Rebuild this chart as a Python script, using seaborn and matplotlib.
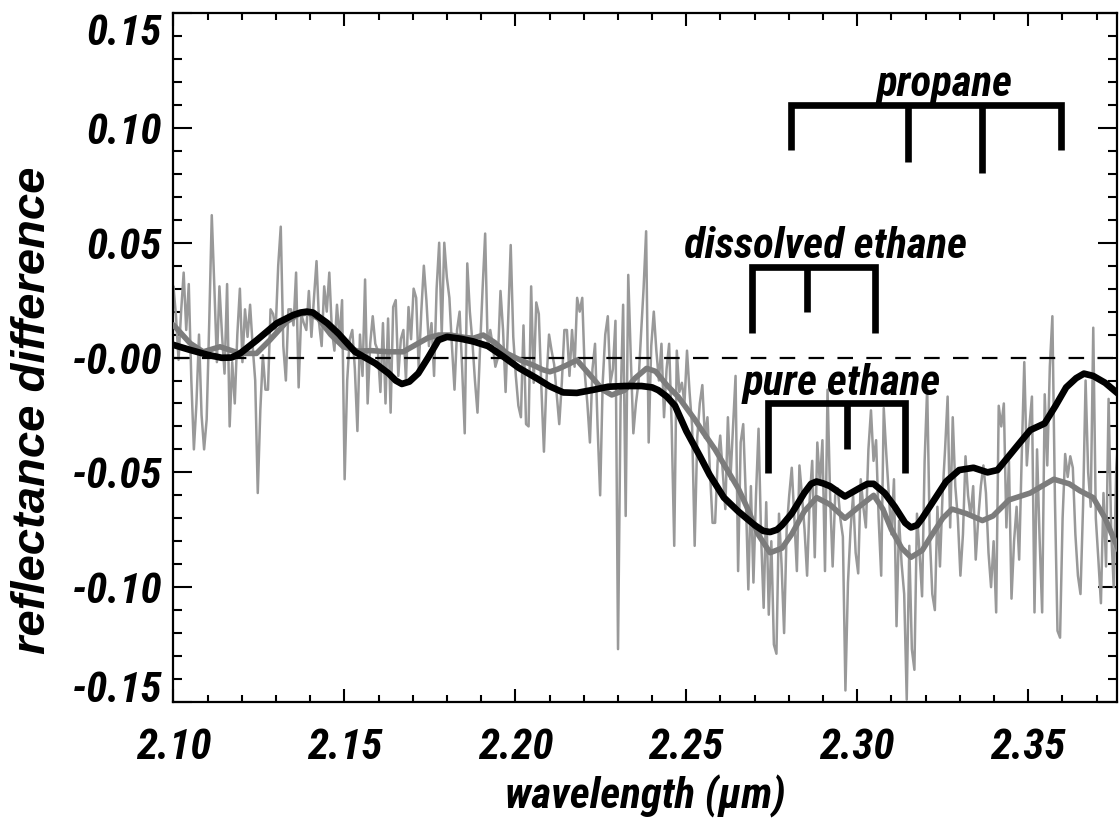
import numpy as np
import pandas as pd
import matplotlib
matplotlib.use("Agg")
import matplotlib.pyplot as plt
from matplotlib import font_manager as fm
from matplotlib.ticker import FixedLocator, FixedFormatter, MultipleLocator
import seaborn as sns

# ---- data, values in units of 0.001 ----
# noisy difference spectrum, evenly sampled from 2.100 to 2.3765 um
noisy_start, noisy_end = 2.100, 2.3765
noisy_vals = [
    31, 18, -1, 20, 37, 12, 32, -10, -40, -20, 10, -25, -40, -27, 15, 62, 31, -2, 31, 10,
    -7, 32, -30, -2, -20, 10, 30, -2, 21, 9, 23, 5, -10, -59, -23, 1, -14, -14, 21, 19,
    12, 40, 57, 5, -10, 21, 21, 14, 37, -13, 19, 15, 12,
    29, 9, 26, 42, 15, 5, 31, 20, 37, 12, 3, 23, 8, 25, -53, -10, 8, 12, -5, -32,
    10, -8, 34, -20, 6, 18, 6, 3, -15, 15, -20, 17, -24, 22, 25, -8, 8, 12, -10, 22,
    8, 30, 26, -5, 20, 40, 25, 5, 15, -8, 30, 50, 10,
    50, 35, 26, 5, -14, 12, 20, -5, -33, 41, 20, 7, -10, -24, 4, 30, 54, 4, 12, 5,
    -4, 0, 29, 12, -15, 16, 49, 9, -8, -21, -26, 14, -29, -30, 31, -11, 24, 19, -13, -41,
    -10, 10, 3, -3, -16, -29, -11, 12, 12, -8, 12, -4, 26,
    20, 26, -7, -20, -37, -5, 6, -30, -60, -11, 10, 18, -11, -5, 16, -127, -20, 23, -69, 36,
    0, -33, -20, -11, 10, 30, 55, -37, 5, 20, 3, -10, 6, -26, -5, 6, -30, -82, 3, -15,
    -11, -20, 3, -15, -30, -82, -35, -20, -12, -35, -26, -50, -72,
    -72, -45, -34, -50, -66, -26, -53, -30, -8, -93, -37, -29, -60, -101, -56, -98, -60, -31, -78, -109,
    -63, -112, -80, -125, -129, -68, -90, -120, -75, -60, -48, -70, -93, -47, -60, -75, -95, -62, -45, -87,
    -37, -55, -36, -93, -14, -60, -91, -60, -57, -70, -78, -145, -98,
    -75, -60, -85, -94, -53, -65, -74, -40, -23, -45, -36, -70, -95, -22, -42, -60, -77, -53, -117, -71,
    -90, -103, -149, -82, -127, -136, -68, -85, -104, -45, -13, -77, -103, -110, -65, -91, -60, -40, -17, -74,
    -26, -56, -70, -95, -77, -43, -60, -69, -56, -88, -70, -56, -47,
    -59, -85, -100, -80, -111, -21, -30, -20, -74, -45, -105, -80, -65, -88, -43, -2, -47, -30, -17, -111,
    -40, -79, -111, -16, -47, -4, 18, -62, -119, -122, -70, -42, -52, -43, -48, -77, -95, -103, -65, -10,
    -50, -65, 13, -70, -88, -107, -59, -91, -18, -75, -100, -48, -32,
]

# smoothed curve (grey)
grey_wl = [2.1000, 2.1049, 2.1087, 2.1136, 2.1195, 2.1243, 2.1282, 2.1331, 2.1365, 2.1395,
           2.1424, 2.1460, 2.1497, 2.1540, 2.1580, 2.1630, 2.1672, 2.1716, 2.1745, 2.1775,
           2.1810, 2.1850, 2.1877, 2.1906, 2.1940, 2.1975, 2.2020, 2.2052, 2.2080, 2.2101,
           2.2125, 2.2150, 2.2180, 2.2223, 2.2255, 2.2282, 2.2320, 2.2350, 2.2384, 2.2410,
           2.2443, 2.2476, 2.2525, 2.2547, 2.2584, 2.2620, 2.2652, 2.2680, 2.2710, 2.2745,
           2.2780, 2.2808, 2.2845, 2.2881, 2.2920, 2.2964, 2.3005, 2.3048, 2.3075, 2.3100,
           2.3130, 2.3157, 2.3190, 2.3215, 2.3250, 2.3277, 2.3320, 2.3366, 2.3397, 2.3444,
           2.3506, 2.3540, 2.3575, 2.3620, 2.3651, 2.3690, 2.3725, 2.3765]
grey_val = [14.2, 6.2, 2.5, 4.7, 1.8, 1.8, 7.6, 15.6, 18.8, 19.5,
            17.0, 10.0, 4.7, 2.8, 3.0, 2.5, 2.5, 6.2, 8.6, 9.8,
            9.8, 8.8, 8.4, 9.8, 6.5, 1.8, -1.5, -3.3, -5.3, -6.2,
            -5.0, -3.3, -1.1, -8.4, -14.0, -16.3, -14.2, -9.0, -4.7, -6.0,
            -12.0, -17.0, -27.0, -32.0, -40.0, -49.0, -57.0, -66.0, -77.0, -85.0,
            -83.0, -77.0, -67.0, -61.0, -64.0, -70.0, -65.0, -60.0, -66.0, -75.0,
            -83.0, -87.0, -84.0, -78.0, -70.0, -66.0, -68.0, -71.0, -69.0, -62.0,
            -59.0, -56.0, -53.0, -55.0, -58.0, -61.0, -70.0, -84.0]

# smoothed curve (black)
black_wl = [2.1000, 2.1049, 2.1100, 2.1141, 2.1170, 2.1195, 2.1244, 2.1302, 2.1350, 2.1372,
            2.1390, 2.1408, 2.1424, 2.1450, 2.1482, 2.1531, 2.1590, 2.1630, 2.1650, 2.1668,
            2.1690, 2.1716, 2.1745, 2.1775, 2.1800, 2.1840, 2.1877, 2.1920, 2.1965, 2.2010,
            2.2062, 2.2100, 2.2140, 2.2180, 2.2230, 2.2272, 2.2320, 2.2369, 2.2400, 2.2418,
            2.2443, 2.2467, 2.2500, 2.2540, 2.2568, 2.2610, 2.2652, 2.2700, 2.2725, 2.2745,
            2.2765, 2.2780, 2.2808, 2.2845, 2.2865, 2.2881, 2.2900, 2.2920, 2.2964, 2.3005,
            2.3030, 2.3048, 2.3080, 2.3110, 2.3140, 2.3157, 2.3175, 2.3190, 2.3225, 2.3260,
            2.3298, 2.3340, 2.3381, 2.3410, 2.3443, 2.3476, 2.3506, 2.3548, 2.3580, 2.3611,
            2.3640, 2.3663, 2.3690, 2.3725, 2.3765]
black_val = [5.5, 3.3, 1.2, -0.1, 0.0, 1.8, 7.6, 14.9, 18.5, 19.6,
             20.0, 19.6, 17.8, 15.0, 10.5, 2.5, -2.5, -7.0, -10.0, -11.5,
             -10.5, -6.9, 0.0, 7.6, 9.0, 8.2, 7.0, 5.0, 0.4, -4.5,
             -9.0, -12.5, -15.2, -15.4, -14.0, -12.7, -12.4, -12.4, -13.0, -14.2,
             -17.0, -21.0, -32.0, -43.0, -51.0, -61.0, -67.0, -73.0, -75.5, -76.0,
             -75.0, -73.0, -68.0, -59.0, -55.0, -54.0, -54.8, -56.0, -60.5, -57.0,
             -55.0, -55.0, -59.0, -65.0, -72.0, -74.0, -73.0, -70.0, -62.0, -54.0,
             -49.0, -48.0, -50.0, -49.0, -43.0, -37.0, -31.6, -28.7, -21.0, -13.0,
             -9.0, -7.0, -8.0, -11.0, -16.0]

# band markers: label, label position, bar level, tick positions, tick ends
band_names = ["propane", "dissolved ethane", "pure ethane"]
band_label_wl = [2.3255, 2.2907, 2.2956]
band_label_y = [0.1137, 0.0434, -0.0163]
band_bar_y = [0.110, 0.0396, -0.020]
band_ticks_wl = [[2.2806, 2.3148, 2.3366, 2.3597],
                 [2.2691, 2.2852, 2.3051],
                 [2.2740, 2.2970, 2.3141]]
band_ticks_end = [[0.0905, 0.0852, 0.0804, 0.0905],
                  [0.0107, 0.0200, 0.0107],
                  [-0.0502, -0.0400, -0.0502]]

ytick_vals = [-0.15, -0.10, -0.05, 0.0, 0.05, 0.10, 0.15]
ytick_text = ["-0.15", "-0.10", "-0.05", "-0.00", "0.05", "0.10", "0.15"]
xtick_vals = [2.10, 2.15, 2.20, 2.25, 2.30, 2.35]
xtick_text = ["2.10", "2.15", "2.20", "2.25", "2.30", "2.35"]


def pick_narrow_font():
    """Return (family, stretch) of a condensed sans face if one is installed."""
    fonts = fm.fontManager.ttflist
    names = {f.name for f in fonts}
    for n in ["Liberation Sans Narrow", "Arial Narrow", "Roboto Condensed",
              "Open Sans Condensed", "Noto Sans Condensed"]:
        if n in names:
            return n, "normal"
    for n in sorted(names):
        if "Narrow" in n or "Condensed" in n:
            return n, "normal"
    for f in fonts:
        if f.name in ("Roboto", "Noto Sans", "Open Sans") and str(f.stretch) in (
                "condensed", "semi-condensed", "extra-condensed"):
            return f.name, "condensed"
    return None, "normal"


# ---- style ----
sns.set_style("ticks")
narrow, stretch = pick_narrow_font()
if narrow is None:
    narrow, fsize = "Liberation Sans", 28
else:
    fsize = 31
plt.rcParams["font.family"] = [narrow, "DejaVu Sans"]
plt.rcParams["font.stretch"] = stretch
plt.rcParams["font.weight"] = "bold"
plt.rcParams["font.style"] = "italic"
for key in ["text.color", "axes.labelcolor", "xtick.color", "ytick.color",
            "xtick.labelcolor", "ytick.labelcolor"]:
    plt.rcParams[key] = "black"

noisy = pd.DataFrame({
    "wl": np.linspace(noisy_start, noisy_end, len(noisy_vals)),
    "val": np.array(noisy_vals) / 1000.0,
})
grey = pd.DataFrame({"wl": grey_wl, "val": np.array(grey_val) / 1000.0})
black = pd.DataFrame({"wl": black_wl, "val": np.array(black_val) / 1000.0})

fig = plt.figure(figsize=(11.19, 8.21), dpi=100)
ax = fig.add_axes([0.155, 0.145, 0.843, 0.839])

sns.lineplot(data=noisy, x="wl", y="val", ax=ax, color="#999999", lw=1.8,
             estimator=None, zorder=2)
ax.axhline(0.0, color="black", lw=1.6, ls=(0, (7.0, 6.0)), zorder=3)
sns.lineplot(data=grey, x="wl", y="val", ax=ax, color="#7c7c7c", lw=4.0,
             estimator=None, zorder=4, solid_joinstyle="round")
sns.lineplot(data=black, x="wl", y="val", ax=ax, color="black", lw=4.8,
             estimator=None, zorder=5, solid_joinstyle="round")

# band brackets
for name, lx, ly, by, tw, te in zip(band_names, band_label_wl, band_label_y,
                                    band_bar_y, band_ticks_wl, band_ticks_end):
    ax.plot([tw[0], tw[0], tw[-1], tw[-1]], [te[0], by, by, te[-1]],
            color="black", lw=4.8, solid_joinstyle="miter", solid_capstyle="butt", zorder=6)
    for x, e in zip(tw[1:-1], te[1:-1]):
        ax.plot([x, x], [by, e], color="black", lw=4.8, solid_capstyle="butt", zorder=6)
    ax.text(lx, ly, name, ha="center", va="baseline", fontsize=fsize,
            fontweight="bold", fontstyle="italic", color="black", zorder=7)

ax.set_xlim(2.100, 2.3759)
ax.set_ylim(-0.15, 0.15)

ax.xaxis.set_major_locator(FixedLocator(xtick_vals))
ax.xaxis.set_major_formatter(FixedFormatter(xtick_text))
ax.xaxis.set_minor_locator(MultipleLocator(0.01))
ax.yaxis.set_major_locator(FixedLocator(ytick_vals))
ax.yaxis.set_major_formatter(FixedFormatter(ytick_text))
ax.yaxis.set_minor_locator(MultipleLocator(0.01))

ax.tick_params(axis="both", which="both", direction="in", top=True, right=True,
               width=1.5, color="black", labelcolor="black")
ax.tick_params(axis="x", which="major", length=9.4, pad=18, labelsize=fsize)
ax.tick_params(axis="x", which="minor", length=4.8)
ax.tick_params(axis="y", which="major", length=13.7, pad=8, labelsize=fsize)
ax.tick_params(axis="y", which="minor", length=6.8)
for lab in ax.get_xticklabels() + ax.get_yticklabels():
    lab.set_fontweight("bold")
    lab.set_fontstyle("italic")
ylabs = ax.get_yticklabels()
ylabs[0].set_va("baseline")
ylabs[-1].set_va("top")

for s in ax.spines.values():
    s.set_linewidth(1.6)
    s.set_color("black")

ax.set_xlabel("wavelength (\u03bcm)", fontsize=fsize, fontweight="bold",
              fontstyle="italic", labelpad=5, color="black")
ax.set_ylabel("reflectance difference", fontsize=34, fontweight="bold",
              fontstyle="italic", family=["Liberation Sans", "DejaVu Sans"],
              color="black")
ax.yaxis.set_label_coords(-0.126, 0.424)
ax.yaxis.label.set_va("bottom")

fig.savefig("out.png", dpi=100)
